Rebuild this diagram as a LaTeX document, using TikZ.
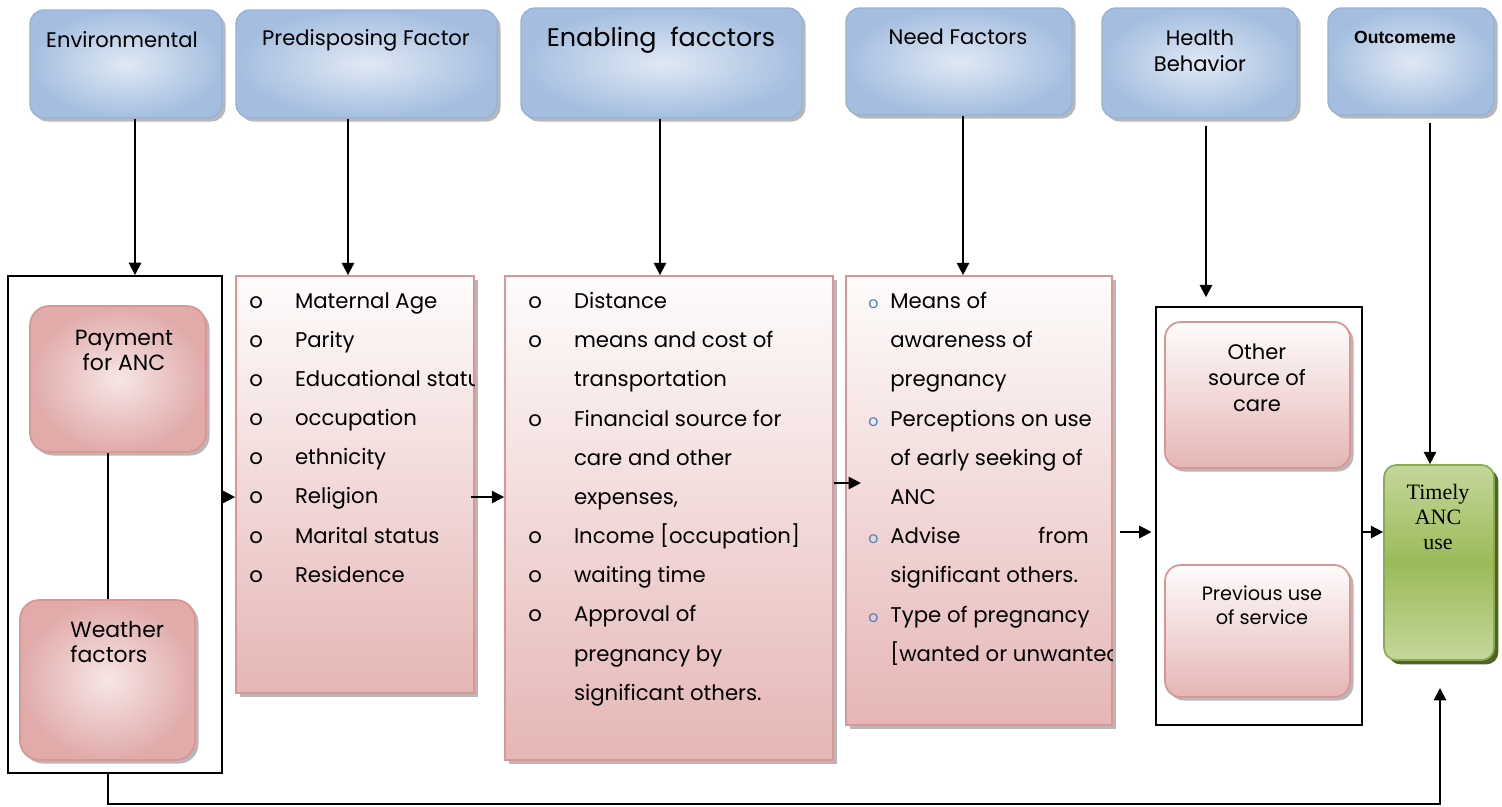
\documentclass[tikz,border=0pt]{standalone}
\usepackage{fontspec}
\setmainfont{Poppins}
\newfontfamily\arialfont{Liberation Sans}
\newfontfamily\timesfont{Liberation Serif}
\usetikzlibrary{arrows.meta,fit,shadows}

% --- colours ---
\definecolor{hdrEdge}{RGB}{149,179,215}
\definecolor{hdrDark}{RGB}{165,190,224}
\definecolor{hdrLight}{RGB}{224,233,244}
\definecolor{pinkEdge}{RGB}{217,150,148}
\definecolor{pinkDark}{RGB}{229,182,181}
\definecolor{pinkLight}{RGB}{254,252,252}
\definecolor{pinkMid}{RGB}{242,220,219}
\definecolor{grnEdge}{RGB}{139,172,75}
\definecolor{grnMid}{RGB}{155,187,89}
\definecolor{grnLight}{RGB}{196,215,155}
\definecolor{grnShadow}{RGB}{79,98,40}
\definecolor{bulBlue}{RGB}{79,129,189}

% --- list items ---
\newcommand{\itm}[1]{\makebox[26pt][l]{o}#1}
\newcommand{\cnt}[1]{\hspace*{26pt}#1}
\newcommand{\itmb}[1]{\makebox[12.5pt][l]{\color{bulBlue}\small o}#1}
\newcommand{\cntb}[1]{\hspace*{12.5pt}#1}

\begin{document}
\begin{tikzpicture}[
  x=0.02cm, y=-0.02cm,
  % --- box styles ---
  hdr/.style={draw=hdrEdge, line width=0.8pt, rounded corners=8pt,
              inner color=hdrLight, outer color=hdrDark, inner sep=0pt,
              drop shadow={shadow xshift=2pt, shadow yshift=-2pt,
                           fill=gray!70, opacity=0.8}},
  lst/.style={draw=pinkEdge, line width=1pt, top color=pinkLight,
              bottom color=pinkDark, inner sep=0pt,
              drop shadow={shadow xshift=2.5pt, shadow yshift=-2.5pt,
                           fill=gray!70, opacity=0.8}},
  sub/.style={draw=pinkEdge, line width=1pt, rounded corners=9pt,
              top color=pinkLight, bottom color=pinkDark, inner sep=0pt,
              drop shadow={shadow xshift=2pt, shadow yshift=-2pt,
                           fill=gray!70, opacity=0.8}},
  mot/.style={draw=pinkEdge, line width=1pt, rounded corners=11pt,
              inner color=pinkMid!70!white, outer color=pinkEdge!80!white,
              inner sep=0pt,
              drop shadow={shadow xshift=2pt, shadow yshift=-2pt,
                           fill=gray!70, opacity=0.8}},
  grn/.style={draw=grnEdge, line width=1pt, rounded corners=7pt,
              top color=grnLight, bottom color=grnLight, middle color=grnMid,
              inner sep=0pt,
              drop shadow={shadow xshift=2.5pt, shadow yshift=-2.5pt,
                           fill=grnShadow, opacity=1}},
  grp/.style={draw=black, line width=1.1pt, inner sep=0pt},
  % --- text styles ---
  txt/.style={inner sep=0pt, font=\fontsize{12}{14}\selectfont},
  lsttxt/.style={inner sep=0pt, anchor=north west, align=left,
                 font=\fontsize{12.1}{22.3}\selectfont},
  % --- connectors ---
  arr/.style={line width=1.1pt, -{Triangle[length=7pt,width=7pt]}},
  lnk/.style={line width=1.1pt},
]
  \useasboundingbox (0,0) rectangle (1502,806);

  % --- Header boxes ---
  \node[hdr, fit={(30,10) (222,118)}]    (envH)  {};
  \node[hdr, fit={(236,10) (497,118)}]   (preH)  {};
  \node[hdr, fit={(521,8) (802,118)}]    (enaH)  {};
  \node[hdr, fit={(846,8) (1072,115)}]   (needH) {};
  \node[hdr, fit={(1102,8) (1297,118)}]  (hbH)   {};
  \node[hdr, fit={(1328,8) (1494,115)}]  (outH)  {};

  \node[txt] (envT)  at (122,40)  {Environmental};
  \node[txt] (preT)  at (366,40)  {Predisposing Factor};
  \node[txt, font=\fontsize{14.5}{16}\selectfont] (enaT) at (661,40) {Enabling~ facctors};
  \node[txt] (needT) at (958,37)  {Need Factors};
  \node[txt, align=center, font=\fontsize{12}{14.5}\selectfont] (hbT) at (1200,51) {Health\\Behavior};
  \node[txt, font=\arialfont\bfseries\fontsize{10}{12}\selectfont] (outT) at (1405,37) {Outcomeme};

  % --- Environmental group ---
  \node[grp, fit={(8,276) (222,773)}]    (envC) {};
  \node[mot, fit={(30,306) (206,452)}]   (pay)  {};
  \node[mot, fit={(20,600) (195,760)}]   (wth)  {};
  \node[txt, align=center, font=\fontsize{12.5}{14.2}\selectfont] (payT) at (124,350) {Payment\\for ANC};
  \node[txt, align=left, anchor=north west, font=\fontsize{12.5}{14.2}\selectfont] (wthT) at (70,621) {Weather\\factors};
  \draw[lnk] (pay.south -| 108,0) -- (wth.north -| 108,0);

  % --- Predisposing list ---
  \node[lst, fit={(236,276) (474,693)}] (preL) {};
  \begin{scope}
    \clip (preL.north west) rectangle (preL.south east);
    \node[lsttxt] (preX) at (249,292) {%
      \itm{Maternal Age}\\
      \itm{Parity}\\
      \itm{Educational statu}\\
      \itm{occupation}\\
      \itm{ethnicity}\\
      \itm{Religion}\\
      \itm{Marital status}\\
      \itm{Residence}};
  \end{scope}

  % --- Enabling list ---
  \node[lst, fit={(505,276) (833,760)}] (enaL) {};
  \node[lsttxt] (enaX) at (528,292) {%
    \itm{Distance}\\
    \itm{means and cost of}\\
    \cnt{transportation}\\
    \itm{Financial source for}\\
    \cnt{care and other}\\
    \cnt{expenses,}\\
    \itm{Income [occupation]}\\
    \itm{waiting time}\\
    \itm{Approval of}\\
    \cnt{pregnancy by}\\
    \cnt{significant others.}};

  % --- Need list ---
  \node[lst, fit={(846,276) (1112,725)}] (needL) {};
  \begin{scope}
    \clip (needL.north west) rectangle (needL.south east);
    \node[lsttxt] (needX) at (868,292) {%
      \itmb{Means of}\\
      \cntb{awareness of}\\
      \cntb{pregnancy}\\
      \itmb{Perceptions on use}\\
      \cntb{of early seeking of}\\
      \cntb{ANC}\\
      \itmb{\makebox[113pt][s]{Advise from}}\\
      \cntb{significant others.}\\
      \itmb{Type of pregnancy}\\
      \cntb{[wanted or unwanted}};
  \end{scope}

  % --- Health behaviour group ---
  \node[grp, fit={(1156,307) (1362,725)}]  (hbC)  {};
  \node[sub, fit={(1165,322) (1350,468)}]  (oth)  {};
  \node[sub, fit={(1165,565) (1350,697)}]  (prev) {};
  \node[txt, align=center, font=\fontsize{12}{14.7}\selectfont] (othT) at (1257,378) {Other\\source of\\care};
  \node[txt, align=center, font=\fontsize{11}{13.6}\selectfont] (prevT) at (1262,605) {Previous use\\of service};

  % --- Outcome ---
  \node[grn, fit={(1384,465) (1494,660)}]  (tim)  {};
  \node[txt, align=center, font=\timesfont\fontsize{12.5}{14.2}\selectfont] (timT) at (1438,517) {Timely\\ANC\\use};
  \coordinate (timIn) at (1440,688);

  % --- Arrows from headers ---
  \draw[arr] (envH.south -| 135,0)   -- (envC.north -| 135,0);
  \draw[arr] (preH.south -| 348,0)   -- (preL.north -| 348,0);
  \draw[arr] (enaH.south -| 660,0)   -- (enaL.north -| 660,0);
  \draw[arr] (needH.south -| 963,0)  -- (needL.north -| 963,0);
  \draw[arr] ([yshift=-4pt]hbH.south -| 1206,0) -- ([yshift=5pt]hbC.north -| 1206,0);
  \draw[arr] ([yshift=-4pt]outH.south -| 1430,0) -- (tim.north -| 1430,0);

  % --- Arrows between groups ---
  \draw[arr] (envC.east |- 0,497) -- (preL.west |- 0,497);
  \draw[arr] ([xshift=-2pt]preL.east |- 0,497) -- (enaL.west |- 0,497);
  \draw[arr, shorten >=-9pt] (enaL.east |- 0,483) -- (needL.west |- 0,483);
  \draw[arr, shorten <=4pt, shorten >=2pt] (needL.east |- 0,532) -- (hbC.west |- 0,532);
  \draw[arr] (hbC.east |- 0,532) -- (tim.west |- 0,532);

  % --- Environmental feedback to outcome ---
  \draw[arr] (envC.south -| 108,0) -- ++(0,30) -| (timIn);
\end{tikzpicture}
\end{document}
